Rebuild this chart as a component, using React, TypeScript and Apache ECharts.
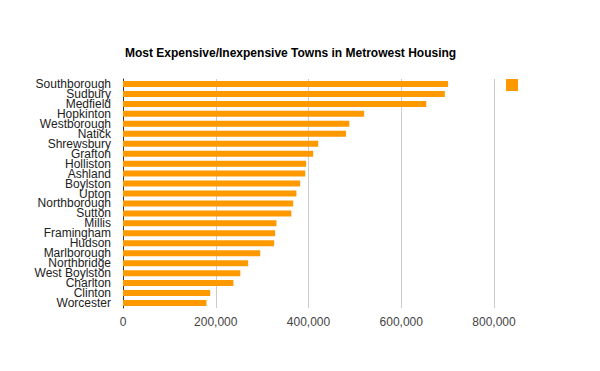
import React, { useEffect, useRef } from "react";
import * as echarts from "echarts";

const towns = [
  "Southborough", "Sudbury", "Medfield", "Hopkinton", "Westborough", "Natick",
  "Shrewsbury", "Grafton", "Holliston", "Ashland", "Boylston", "Upton",
  "Northborough", "Sutton", "Millis", "Framingham", "Hudson", "Marlborough",
  "Northbridge", "West Boylston", "Charlton", "Clinton", "Worcester",
];
const prices = [
  701000, 694000, 654000, 520000, 488000, 481000,
  421000, 410000, 395000, 393000, 382000, 374000,
  367000, 363000, 331000, 328000, 326000, 296000,
  270000, 253000, 238000, 188000, 180000,
];
const seriesName = "Price";
const title = "Most Expensive/Inexpensive Towns in Metrowest Housing";

export default function App() {
  const ref = useRef<HTMLDivElement>(null);
  useEffect(() => {
    const chart = echarts.init(ref.current!, null, { renderer: "svg" });
    chart.setOption({
      animation: false,
      backgroundColor: "#ffffff",
      textStyle: { fontFamily: "Liberation Sans, Arial, sans-serif" },
      title: {
        text: title,
        left: 125,
        top: 47,
        padding: 0,
        textStyle: { fontSize: 12, fontWeight: "bold", color: "#000", fontFamily: "Liberation Sans, Arial, sans-serif" },
      },
      legend: {
        data: [seriesName],
        left: 506,
        top: 79,
        padding: 0,
        itemWidth: 12,
        itemHeight: 12,
        icon: "rect",
        formatter: () => "",
        textStyle: { fontSize: 1 },
      },
      grid: { left: 123, right: 106, top: 79, bottom: 63, containLabel: false },
      xAxis: {
        type: "value",
        min: 0,
        max: 800000,
        interval: 200000,
        axisLine: { show: false },
        axisTick: { show: false },
        splitLine: { show: true, lineStyle: { color: "#cccccc", width: 1 } },
        axisLabel: {
          color: "#444",
          fontSize: 12,
          margin: 8,
          formatter: (v: number) => v.toLocaleString("en-US"),
        },
      },
      yAxis: {
        type: "category",
        data: towns,
        inverse: true,
        axisLine: { show: true, lineStyle: { color: "#333", width: 1 } },
        axisTick: { show: false },
        axisLabel: { color: "#222", fontSize: 12, margin: 12, lineHeight: 10, interval: 0 },
      },
      series: [
        {
          name: seriesName,
          type: "bar",
          data: prices,
          barWidth: 6,
          itemStyle: { color: "#ff9900" },
        },
      ],
    });
    return () => chart.dispose();
  }, []);
  return <div ref={ref} style={{ width: 600, height: 371, position: "absolute", left: 0, top: 0 }} />;
}
